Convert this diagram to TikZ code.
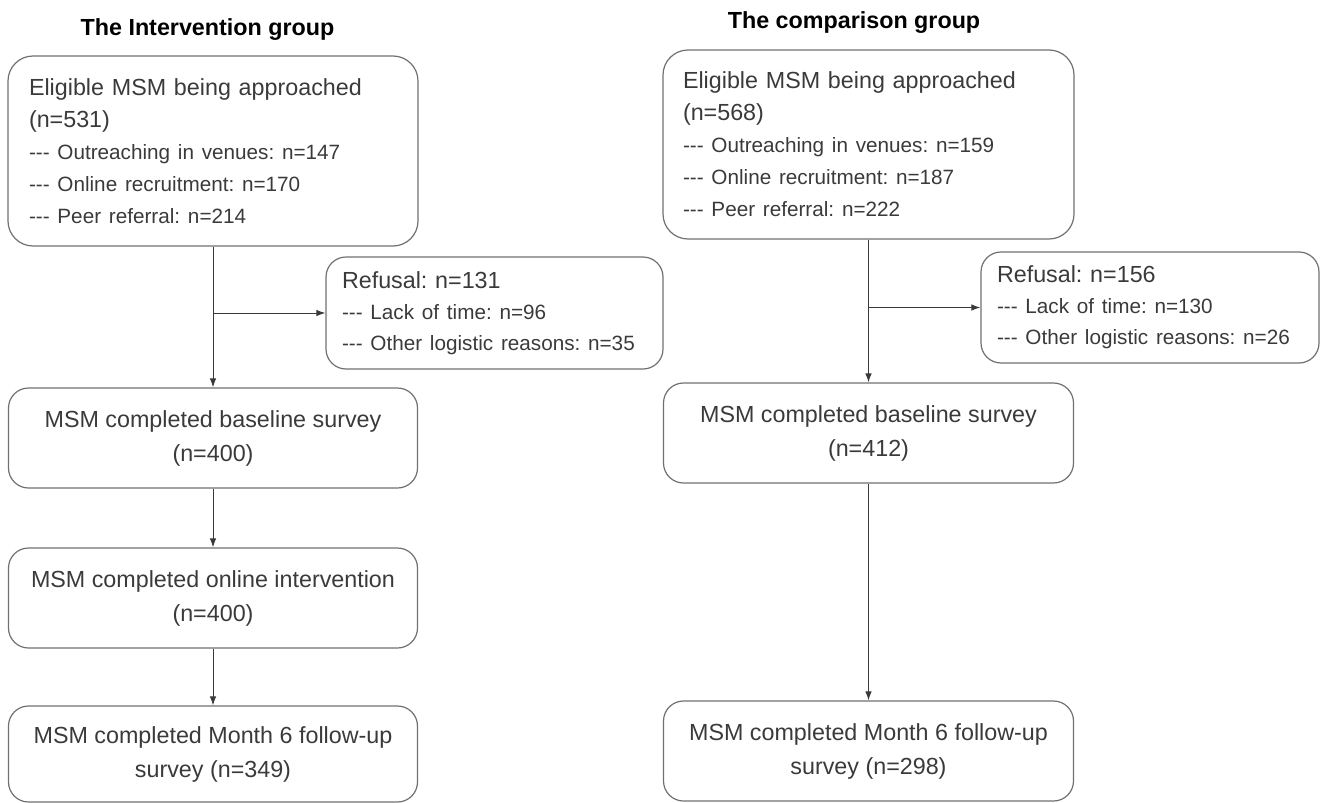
\documentclass[tikz,border=0pt]{standalone}
\usepackage{fontspec}
\setmainfont{Liberation Sans}[Ligatures=TeXOff]
\usetikzlibrary{arrows.meta}
\definecolor{txt}{HTML}{3A3A3A}
\definecolor{edgec}{HTML}{707070}
\definecolor{lnk}{HTML}{3A3A3A}
\newcommand\mainf{\fontsize{23.3}{32}\selectfont}
\newcommand\subf{\fontsize{20.7}{32}\selectfont}
\newcommand\refmf{\fontsize{23.3}{31}\selectfont}
\newcommand\refsf{\fontsize{20.7}{31}\selectfont}
\frenchspacing
\begin{document}
\begin{tikzpicture}[x=1pt,y=-1pt,
  roundbox/.style={draw=edgec, line width=1.2pt, rounded corners=#1, inner sep=0pt, text=txt},
  roundbox/.default=20pt,
  titletext/.style={font=\fontsize{23.3}{28}\selectfont\bfseries, text=black, inner sep=0pt, anchor=base},
  flow/.style={draw=lnk, line width=1pt, -{Latex[length=9pt,width=6.5pt]}}]
\useasboundingbox (0,0) rectangle (1320,803);

% titles
\node[titletext] (tL) at (207.5,35) {The Intervention group};
\node[titletext] (tR) at (854,28) {The comparison group};

% left column
\node[roundbox=25pt, minimum width=410pt, minimum height=190pt, text width=368pt, align=left, font=\mainf] (L1) at (213,151)
 {Eligible MSM being approached\\(n=531)\\{\subf --- Outreaching in venues: n=147}\\{\subf --- Online recruitment: n=170}\\{\subf --- Peer referral: n=214}};
\node[roundbox=20pt, minimum width=337pt, minimum height=112pt, text width=305pt, align=left, font=\refmf] (Rl) at (494.5,313)
 {Refusal: n=131\\{\refsf --- Lack of time: n=96}\\{\refsf --- Other logistic reasons: n=35}};
\node[roundbox=20pt, minimum width=409pt, minimum height=100pt, align=center, font=\fontsize{23.3}{34}\selectfont] (L2) at (213,438)
 {MSM completed baseline survey\\(n=400)};
\node[roundbox=20pt, minimum width=409pt, minimum height=100pt, align=center, font=\fontsize{23.3}{34}\selectfont] (L3) at (213,598)
 {MSM completed online intervention\\(n=400)};
\node[roundbox=20pt, minimum width=409pt, minimum height=96pt, align=center, font=\fontsize{23.3}{34}\selectfont] (L4) at (213,754)
 {MSM completed Month 6 follow-up\\survey (n=349)};

% right column
\node[roundbox=25pt, minimum width=411pt, minimum height=189pt, text width=371pt, align=left, font=\mainf] (R1) at (868.5,144.5)
 {Eligible MSM being approached\\(n=568)\\{\subf --- Outreaching in venues: n=159}\\{\subf --- Online recruitment: n=187}\\{\subf --- Peer referral: n=222}};
\node[roundbox=20pt, minimum width=338pt, minimum height=111pt, text width=306pt, align=left, font=\refmf] (Rr) at (1150,307.5)
 {Refusal: n=156\\{\refsf --- Lack of time: n=130}\\{\refsf --- Other logistic reasons: n=26}};
\node[roundbox=20pt, minimum width=410pt, minimum height=100pt, align=center, font=\fontsize{23.3}{34}\selectfont] (R2) at (868.5,433)
 {MSM completed baseline survey\\(n=412)};
\node[roundbox=20pt, minimum width=410pt, minimum height=100pt, align=center, font=\fontsize{23.3}{34}\selectfont] (R3) at (868.5,751)
 {MSM completed Month 6 follow-up\\survey (n=298)};

% connectors left
\coordinate (bL) at (L1.south |- Rl.west);
\draw[flow] (L1.south) -- (L2.north);
\draw[flow] (bL) -- (Rl.west);
\draw[flow] (L2.south) -- (L3.north);
\draw[flow] (L3.south) -- (L4.north);

% connectors right
\coordinate (bR) at (R1.south |- Rr.west);
\draw[flow] (R1.south) -- (R2.north);
\draw[flow] (bR) -- (Rr.west);
\draw[flow] (R2.south) -- (R3.north);
\end{tikzpicture}
\end{document}
